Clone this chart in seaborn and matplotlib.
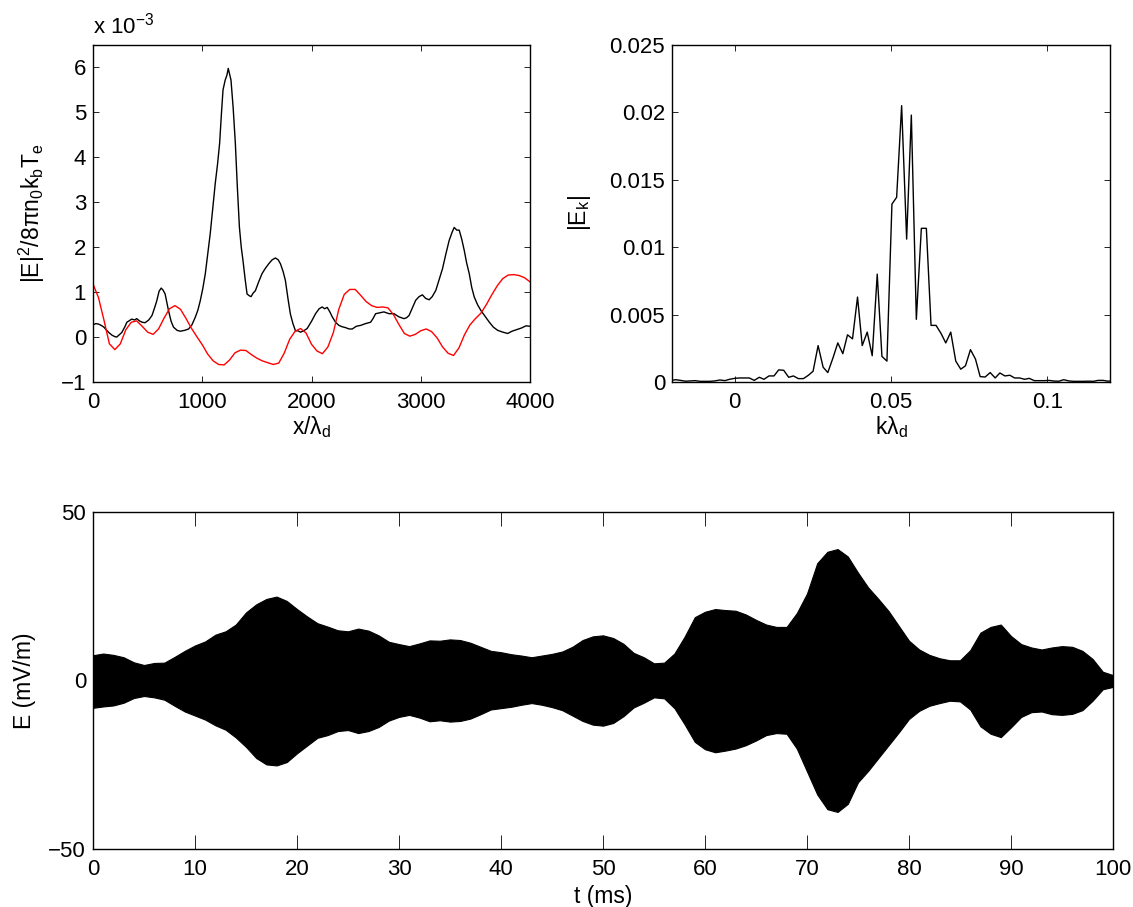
import numpy as np
import matplotlib
matplotlib.use("Agg")
import matplotlib.pyplot as plt
import seaborn as sns

# field energy vs position
x_energy = [0, 25, 50, 75, 100, 125, 150, 175, 200, 217, 240, 263, 290, 310, 330, 355, 380, 400, 425, 450, 477, 510,
            540, 565, 584, 605, 624, 640, 660, 675, 691, 715, 737, 770, 798, 840, 875, 905, 936, 960, 982, 1005,
            1028, 1050, 1073, 1096, 1119, 1140, 1159, 1175, 1190, 1210, 1226, 1238, 1250, 1263, 1283, 1303, 1320,
            1340, 1357, 1373, 1392, 1410, 1430, 1447, 1466, 1486, 1515, 1547, 1575, 1608, 1640, 1670, 1695, 1716,
            1740, 1761, 1785, 1807, 1830, 1853, 1875, 1899, 1930, 1960, 2000, 2037, 2070, 2098, 2120, 2144, 2168,
            2190, 2220, 2251, 2280, 2312, 2345, 2373, 2410, 2450, 2495, 2541, 2565, 2587, 2625, 2663, 2710, 2755,
            2800, 2847, 2870, 2893, 2925, 2954, 2985, 3015, 3045, 3077, 3105, 3138, 3168, 3199, 3230, 3260, 3285,
            3306, 3330, 3352, 3375, 3398, 3420, 3444, 3467, 3490, 3520, 3551, 3590, 3628, 3665, 3704, 3750, 3796,
            3835, 3872, 3920, 3964, 4000]
energy = [.27, .30, .29, .26, .22, .15, .09, .04, .01, 0, .05, .1, .22, .33, .36, .40, .38, .41, .36, .33, .32, .38,
          .48, .66, .81, 1.02, 1.09, 1.05, .96, .78, .59, .35, .22, .15, .13, .15, .18, .27, .44, .60, .81, 1.08,
          1.41, 1.85, 2.3, 2.85, 3.42, 3.85, 4.31, 4.95, 5.5, 5.72, 5.83, 5.98, 5.85, 5.72, 5.1, 4.31, 3.4,
          2.45, 2.0, 1.7, 1.3, .96, .92, .9, .98, 1.03, 1.22, 1.41, 1.52, 1.63, 1.72, 1.76, 1.72, 1.63,
          1.46, 1.26, .85, .51, .3, .14, .14, .11, .14, .19, .35, .52, .63, .67, .63, .66, .56,
          .45, .33, .26, .23, .21, .18, .18, .24, .26, .30, .33, .42, .52, .54, .56, .52, .52,
          .45, .41, .43, .48, .66, .82, .90, .94, .86, .83, .90, 1.04, 1.28, 1.52, 1.85, 2.15, 2.32,
          2.44, 2.38, 2.38, 2.18, 1.93, 1.65, 1.41, 1.1, .89, .72, .59, .46, .33, .22, .15, .11, .08,
          .13, .16, .20, .25, .24]

x_density = [0, 50, 100, 150, 200, 250, 300, 350, 400, 450, 500, 550, 600, 650, 700, 750, 800, 850, 900, 950, 1000,
             1050, 1100, 1150, 1200, 1250, 1300, 1350, 1400, 1450, 1500, 1550, 1600, 1650, 1700, 1750, 1800, 1850,
             1900, 1950, 2000, 2050, 2100, 2150, 2200, 2250, 2300, 2350, 2400, 2450, 2500, 2550, 2600, 2650, 2700,
             2750, 2800, 2850, 2900, 2950, 3000, 3050, 3100, 3150, 3200, 3250, 3300, 3350, 3400, 3450, 3500, 3550,
             3600, 3650, 3700, 3750, 3800, 3850, 3900, 3950, 4000]
density = [1.18, .88, .38, -.15, -.28, -.15, .16, .33, .36, .24, .11, .06, .18, .42, .63, .70, .62, .42, .2, .01, -.17,
           -.38, -.53, -.61, -.62, -.51, -.35, -.29, -.3, -.39, -.47, -.53, -.57, -.61, -.58, -.36, -.05, .13,
           .19, .09, -.16, -.31, -.37, -.22, .1, .62, .95, 1.06, 1.06, .93, .79, .7, .66, .67, .65,
           .5, .28, .08, .02, .06, .14, .18, .12, -.02, -.22, -.36, -.41, -.24, .05, .27, .41, .53,
           .72, .94, 1.14, 1.3, 1.38, 1.39, 1.37, 1.32, 1.23]

# spectrum, top right panel
k_values = [-.0204, -.0188, -.0173, -.0157, -.0141, -.0126, -.0110, -.0094, -.0079, -.0063, -.0047, -.0031, -.0016,
            0, .0016, .0031, .0047, .0063, .0079, .0094, .0110, .0126, .0141, .0157, .0173, .0188, .0204, .0220,
            .0236, .0251, .0267, .0283, .0298, .0314, .0330, .0346, .0361, .0377, .0393, .0408, .0424, .0440,
            .0456, .0471, .0487, .0503, .0518, .0534, .0550, .0565, .0581, .0597, .0613, .0628, .0644, .0660,
            .0675, .0691, .0707, .0723, .0738, .0754, .0770, .0785, .0801, .0817, .0833, .0848, .0864, .0880,
            .0895, .0911, .0927, .0942, .0958, .0974, .0990, .1005, .1021, .1037, .1052, .1068, .1084, .1100,
            .1115, .1131, .1147, .1162, .1178, .1194, .1210]
e_k = [.00012, .00017, .00012, .00006, .00008, .0001, .00005, .00005, .00005, .00008, .00015, .0001, .0002,
       .00027, .0003, .0003, .0003, .00012, .00035, .0002, .00045, .00045, .0009, .00087, .00035, .00045, .00025,
       .00025, .0005, .0008, .0027, .0011, .0007, .00175, .0029, .0021, .0035, .0032, .0063, .0027, .0037, .00195,
       .0080, .0019, .00155, .0132, .0137, .0205, .0106, .0198, .00465, .0114, .0114, .0042, .0042, .0036, .0029,
       .0037, .00155, .00095, .0012, .0024, .0017, .0004, .00037, .0007, .0003, .00067, .00045, .0005, .0003,
       .0003, .0002, .00027, .0001, .0001, .0001, .00012, .00007, .00006, .00017, .00008, .00005, .00005, .00005,
       .00006, .00005, .00012, .00012, .00006, .0001]

# envelope of the waveform in the bottom panel, one reading per ms
t_ms = list(range(0, 101))
e_upper = [7.5, 8, 7.6, 6.9, 5.4, 4.6, 5.2, 5.3, 7.0, 8.8, 10.4, 11.6, 13.6, 14.6, 16.6, 20.2, 22.6, 24.2, 24.9, 23.6,
           21.2, 19, 17, 16, 14.9, 14.6, 15.4, 14.8, 13.4, 11.5, 10.8, 10.2, 11, 11.9, 11.8, 12.2, 12, 11.2, 10, 8.8,
           8.4, 7.8, 7.4, 6.9, 7.4, 7.9, 8.6, 10, 12, 13.1, 13.4, 12.6, 10.9, 8.2, 6.9, 5.1, 5.3, 8, 13, 18.8,
           20.4, 21.2, 20.9, 20.7, 19.6, 18, 16.6, 15.9, 15.9, 20, 25.8, 34.8, 38.2, 39, 36.8, 32, 27.6, 24.2, 20.6, 16.2,
           11.8, 9.2, 7.6, 6.6, 6, 6, 9, 14.2, 15.9, 16.6, 13.2, 10.8, 9.8, 9.2, 9.8, 10.2, 10, 8.8, 6.4, 2.6, 1.6]
e_lower = [-8.1, -7.7, -7.4, -6.6, -5.2, -4.6, -5, -5.7, -7.5, -9.2, -10.4, -11.6, -13.3, -14.6, -16.9, -19.7, -23, -24.9,
           -25.2, -24.2, -21.6, -19.3, -17, -16.2, -15, -14.7, -15.6, -15, -13.8, -11.9, -10.8, -10.2, -11, -12.1, -11.8,
           -12.2, -12, -11.3, -10, -8.6, -8.2, -7.8, -7.2, -6.7, -7.2, -7.9, -8.8, -10.4, -12, -13.1, -13.4, -12.6, -10.6,
           -8, -6.6, -5, -5.3, -8.2, -13, -18.2, -20.4, -21.3, -20.8, -20.2, -19.2, -17.8, -16.2, -15.6, -15.8, -20.2, -27,
           -33.8, -38.2, -39, -36.6, -30.2, -26.8, -23, -19.2, -15.4, -11.4, -9, -7.5, -6.7, -6, -6.2, -8.6, -13.6, -15.8,
           -16.8, -13.9, -10.8, -9.4, -9.2, -10, -10.2, -9.9, -8.8, -6, -2.6, -1.9]

W, H = 1133, 907
TICK_SIZE = 16
LABEL_SIZE = 16.5

sns.set_theme(style="white")
plt.rcParams['font.family'] = ['Liberation Sans', 'DejaVu Sans']
plt.rcParams['mathtext.fontset'] = 'custom'
plt.rcParams['mathtext.rm'] = 'Liberation Sans'
plt.rcParams['mathtext.it'] = 'Liberation Sans'
plt.rcParams['mathtext.default'] = 'regular'
plt.rcParams['axes.edgecolor'] = 'black'
plt.rcParams['axes.linewidth'] = 1.0
plt.rcParams['text.color'] = 'black'
plt.rcParams['axes.labelcolor'] = 'black'
plt.rcParams['xtick.color'] = 'black'
plt.rcParams['ytick.color'] = 'black'


def add_axes(fig, left, top, right, bottom):
    return fig.add_axes([left / W, 1 - bottom / H, (right - left) / W, (bottom - top) / H])


def style_axes(ax, tick_len):
    ax.tick_params(axis='both', which='major', direction='in', top=True, right=True, bottom=True, left=True,
                   length=tick_len, width=0.6, labelsize=TICK_SIZE)
    ax.tick_params(axis='x', pad=7)
    ax.tick_params(axis='y', pad=5)


fig = plt.figure(figsize=(W / 100, H / 100), dpi=100)

# top left
ax1 = add_axes(fig, 93, 45, 530, 382)
sns.lineplot(x=x_energy, y=energy, color='black', linewidth=1.0, ax=ax1, errorbar=None)
sns.lineplot(x=x_density, y=density, color='red', linewidth=1.0, ax=ax1, errorbar=None)
ax1.set_xlim(0, 4000)
ax1.set_ylim(-1, 6.5)
ax1.set_xticks([0, 1000, 2000, 3000, 4000])
ax1.set_yticks([-1, 0, 1, 2, 3, 4, 5, 6])
ax1.set_xlabel(r'x/$\lambda_d$', fontsize=LABEL_SIZE)
ax1.set_ylabel(r'|E|$^2$/8$\pi$n$_0$k$_b$T$_e$', fontsize=LABEL_SIZE)
ax1.xaxis.set_label_coords(0.5, -0.095)
ax1.yaxis.set_label_coords(-0.105, 0.5)
ax1.text(0, 1.02, r'x 10$^{-3}$', transform=ax1.transAxes, fontsize=TICK_SIZE, ha='left', va='bottom')
style_axes(ax1, 4)

# top right
ax2 = add_axes(fig, 672, 45, 1110, 382)
sns.lineplot(x=k_values, y=e_k, color='black', linewidth=1.0, ax=ax2, errorbar=None)
ax2.set_xlim(-0.02, 0.12)
ax2.set_ylim(0, 0.025)
ax2.set_xticks([0, 0.05, 0.1])
ax2.set_xticklabels(['0', '0.05', '0.1'])
ax2.set_yticks([0, 0.005, 0.01, 0.015, 0.02, 0.025])
ax2.set_yticklabels(['0', '0.005', '0.01', '0.015', '0.02', '0.025'])
ax2.set_xlabel(r'k$\lambda_d$', fontsize=LABEL_SIZE)
ax2.set_ylabel(r'|E$_k$|', fontsize=LABEL_SIZE)
ax2.xaxis.set_label_coords(0.5, -0.095)
ax2.yaxis.set_label_coords(-0.18, 0.5)
style_axes(ax2, 4)

# bottom, the pi band over both envelopes fills the unresolved oscillation
ax3 = add_axes(fig, 93, 512, 1113, 849)
sns.lineplot(x=t_ms + t_ms, y=e_upper + e_lower, color='black', linewidth=0, ax=ax3,
             errorbar=('pi', 100), err_kws={'alpha': 1, 'linewidth': 0.8, 'edgecolor': 'black'})
ax3.set_xlim(0, 100)
ax3.set_ylim(-50, 50)
ax3.set_xticks(np.arange(0, 101, 10))
ax3.set_yticks([-50, 0, 50])
ax3.set_xlabel('t (ms)', fontsize=LABEL_SIZE)
ax3.set_ylabel('E (mV/m)', fontsize=LABEL_SIZE)
ax3.xaxis.set_label_coords(0.5, -0.108)
ax3.yaxis.set_label_coords(-0.056, 0.5)
style_axes(ax3, 10)

fig.savefig('out.png', dpi=100)
